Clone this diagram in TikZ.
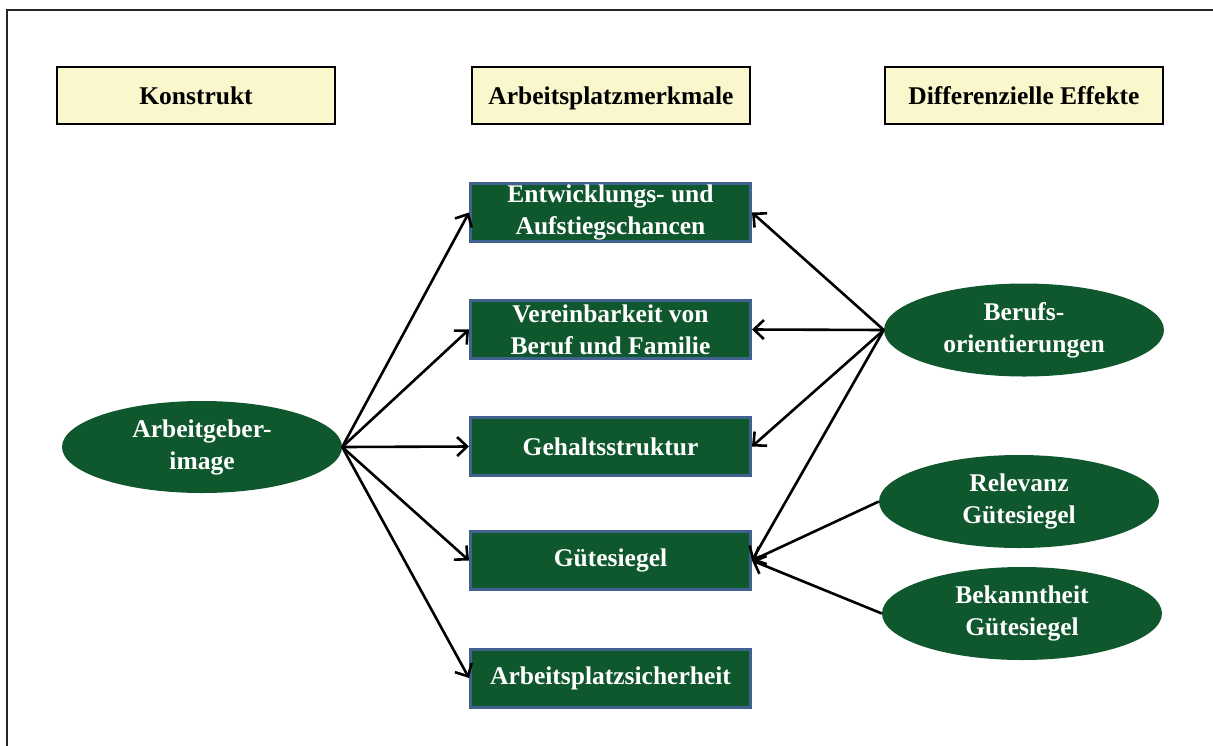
\documentclass[tikz,border=0pt]{standalone}
\usepackage{fontspec}
\setmainfont{Liberation Serif}
\usetikzlibrary{shapes.geometric,arrows.meta}
\definecolor{headfill}{HTML}{FAF7CC}
\definecolor{boxgreen}{HTML}{0F572C}
\definecolor{boxedge}{HTML}{41628F}
\definecolor{framegray}{HTML}{262626}
\tikzset{
  header/.style={draw=black, line width=2pt, fill=headfill, minimum width=278pt,
    minimum height=57pt, inner sep=0pt, text height=20pt, text depth=2pt,
    font=\fontsize{25.5}{32}\selectfont\bfseries},
  feature/.style={draw=boxedge, line width=3pt, fill=boxgreen, text=white,
    minimum width=280pt, minimum height=58pt, inner sep=0pt, align=center,
    font=\fontsize{25.5}{32}\selectfont\bfseries},
  factor/.style={ellipse, fill=boxgreen, text=white, minimum width=280pt,
    minimum height=93pt, inner sep=0pt, align=center,
    font=\fontsize{25.5}{32}\selectfont\bfseries},
  link/.style={line width=2.6pt, -{Straight Barb[length=10pt,width=19pt,line width=2.6pt]}}
}
\begin{document}
\begin{tikzpicture}[x=1pt,y=-1pt]
\useasboundingbox (0,0) rectangle (1213,745);
% open frame
\draw[framegray, line width=2pt] (7,746) -- (7,10) -- (1214,10);

% column headers
\node[header] (hk) at (196,95.5) {Konstrukt};
\node[header] (ha) at (611,95.5) {Arbeitsplatzmerkmale};
\node[header] (hd) at (1024,95.5) {Differenzielle Effekte};

% workplace features
\node[feature] (f1) at (610.5,212.5) {Entwicklungs- und\\Aufstiegschancen};
\node[feature] (f2) at (610.5,329.5) {Vereinbarkeit von\\Beruf und Familie};
\node[feature] (f3) at (610.5,446.5) {Gehaltsstruktur};
\node[feature] (f4) at (610.5,560.5) {Gütesiegel};
\node[feature] (f5) at (610.5,678) {Arbeitsplatzsicherheit};

% construct and moderators
\node[factor, minimum height=92pt] (ai) at (202,447) {Arbeitgeber-\\image};
\node[factor] (bo) at (1024,330) {Berufs-\\orientierungen};
\node[factor] (rg) at (1019,501.5) {Relevanz\\Gütesiegel};
\node[factor] (bg) at (1022,613.5) {Bekanntheit\\Gütesiegel};

% effects of the employer image
\foreach \f in {f1,f2,f3,f4,f5}
  \draw[link] (ai.east) -- (\f.west);

% differential effects
\foreach \f in {f1,f2,f3,f4}
  \draw[link] (bo.west) -- (\f.east);
\draw[link] (rg.west) -- (f4.east);
\draw[link] (bg.west) -- (f4.east);
\end{tikzpicture}
\end{document}
